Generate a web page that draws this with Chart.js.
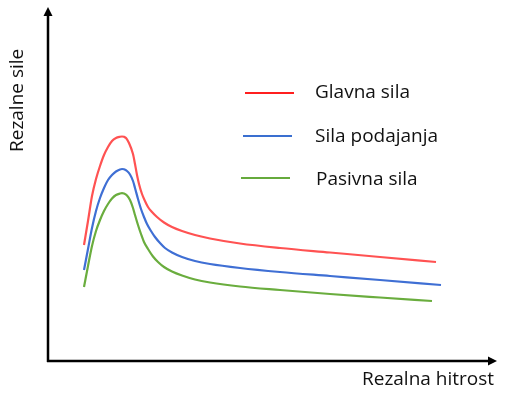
<!DOCTYPE html>
<html>
<head>
<meta charset="utf-8">
<script src="https://cdn.jsdelivr.net/npm/chart.js@4/dist/chart.umd.min.js"></script>
<style>
html,body{margin:0;padding:0;background:#fff;}
#wrap{width:507px;height:395px;}
</style>
</head>
<body>
<div id="wrap"><canvas id="c" width="507" height="395"></canvas></div>
<script>
// Arbitrary units (speed on x, force on y)
const seriesLabels = ["Glavna sila", "Sila podajanja", "Pasivna sila"];
const xTitle = "Rezalna hitrost";
const yTitle = "Rezalne sile";

const glavnaX = [36, 40, 44, 48, 52, 56, 60, 64, 68, 72, 74, 76, 78, 81, 85, 87, 89, 91, 94, 97, 100, 104, 109, 116, 124, 134, 147, 162, 192, 232, 282, 332, 388];
const glavnaY = [116, 140, 165, 182, 195, 206, 214, 220, 223, 224.2, 224.5, 224.2, 223, 218, 207, 197, 186, 177, 167, 160, 154, 149, 144, 138.5, 134, 130, 126, 122.5, 117.5, 113, 108.5, 104, 99];

const podajanjaX = [36, 40, 44, 48, 52, 56, 60, 64, 68, 72, 74, 76, 79, 82, 85, 87, 90, 93, 96, 99, 103, 107, 112, 117, 124, 134, 147, 162, 192, 232, 282, 332, 393];
const podajanjaY = [91, 112, 133, 150, 163, 173, 181, 186, 189.5, 191.5, 192, 191.7, 190, 186.5, 180, 173, 162, 152, 144, 137, 130, 124, 118, 113, 108.5, 104, 100, 97, 93, 89, 85, 81, 76];

const pasivnaX = [36, 40, 44, 48, 52, 56, 60, 64, 68, 72, 74, 76, 79, 82, 85, 87, 90, 93, 96, 100, 105, 110, 116, 124, 134, 147, 162, 192, 232, 282, 332, 384];
const pasivnaY = [74, 95, 115, 130, 141, 150, 157, 162.5, 166, 167.5, 167.8, 167.5, 165.5, 161, 153, 146, 136, 127, 119, 112, 104.5, 99, 94, 89.5, 85.5, 81.5, 78.5, 74.5, 71, 67, 63.5, 60];

const colors = ["#ff5252", "#3f6fd4", "#6aad3e"];
const legendColors = ["#ff1f1f", "#3a6fd0", "#66aa3c"];

function pts(xs, ys){ return xs.map((x,i)=>({x:x, y:ys[i]})); }

const overlay = {
  id: "overlay",
  afterDatasetsDraw(chart){
    const ctx = chart.ctx;
    const xs = chart.scales.x, ys = chart.scales.y;
    const x0 = xs.getPixelForValue(0), y0 = ys.getPixelForValue(0);
    const yTop = ys.getPixelForValue(ys.max), xRight = xs.getPixelForValue(xs.max);
    ctx.save();
    ctx.strokeStyle = "#000"; ctx.fillStyle = "#000"; ctx.lineWidth = 2.5;
    // y axis
    ctx.beginPath(); ctx.moveTo(x0, y0 + 1); ctx.lineTo(x0, yTop + 6); ctx.stroke();
    ctx.beginPath(); ctx.moveTo(x0, yTop); ctx.lineTo(x0 - 4.5, yTop + 9); ctx.lineTo(x0 + 4.5, yTop + 9); ctx.closePath(); ctx.fill();
    // x axis
    ctx.beginPath(); ctx.moveTo(x0 - 1, y0); ctx.lineTo(xRight - 6, y0); ctx.stroke();
    ctx.beginPath(); ctx.moveTo(xRight, y0); ctx.lineTo(xRight - 9, y0 - 4.5); ctx.lineTo(xRight - 9, y0 + 4.5); ctx.closePath(); ctx.fill();

    // legend
    ctx.font = "19px 'Open Sans'";
    ctx.textBaseline = "alphabetic";
    const legY = [93, 136, 178];
    const legX1 = [245, 243, 241], legX2 = [294, 292, 290];
    const txtX = [315, 315, 316], txtBase = [98, 142, 185];
    for (let i = 0; i < 3; i++){
      ctx.strokeStyle = legendColors[i]; ctx.lineWidth = 2;
      ctx.beginPath(); ctx.moveTo(legX1[i], legY[i]); ctx.lineTo(legX2[i], legY[i]); ctx.stroke();
      ctx.fillStyle = "#111";
      ctx.fillText(seriesLabels[i], txtX[i], txtBase[i]);
    }
    // axis titles
    ctx.fillStyle = "#111";
    ctx.fillText(xTitle, 362, 385);
    ctx.save();
    ctx.translate(23, 152);
    ctx.rotate(-Math.PI/2);
    ctx.fillText(yTitle, 0, 0);
    ctx.restore();
    ctx.restore();
  }
};

new Chart(document.getElementById("c"), {
  type: "line",
  data: {
    datasets: [
      {label: seriesLabels[0], data: pts(glavnaX, glavnaY), borderColor: colors[0]},
      {label: seriesLabels[1], data: pts(podajanjaX, podajanjaY), borderColor: colors[1]},
      {label: seriesLabels[2], data: pts(pasivnaX, pasivnaY), borderColor: colors[2]}
    ].map(d => Object.assign(d, {borderWidth: 2.2, pointRadius: 0, fill: false, cubicInterpolationMode: "monotone"}))
  },
  options: {
    responsive: false,
    animation: false,
    layout: {padding: {left: 48, right: 10, top: 7, bottom: 34}},
    plugins: {legend: {display: false}, tooltip: {enabled: false}},
    scales: {
      x: {type: "linear", min: 0, max: 449, display: false},
      y: {type: "linear", min: 0, max: 354, display: false}
    }
  },
  plugins: [overlay]
});
</script>
</body>
</html>
